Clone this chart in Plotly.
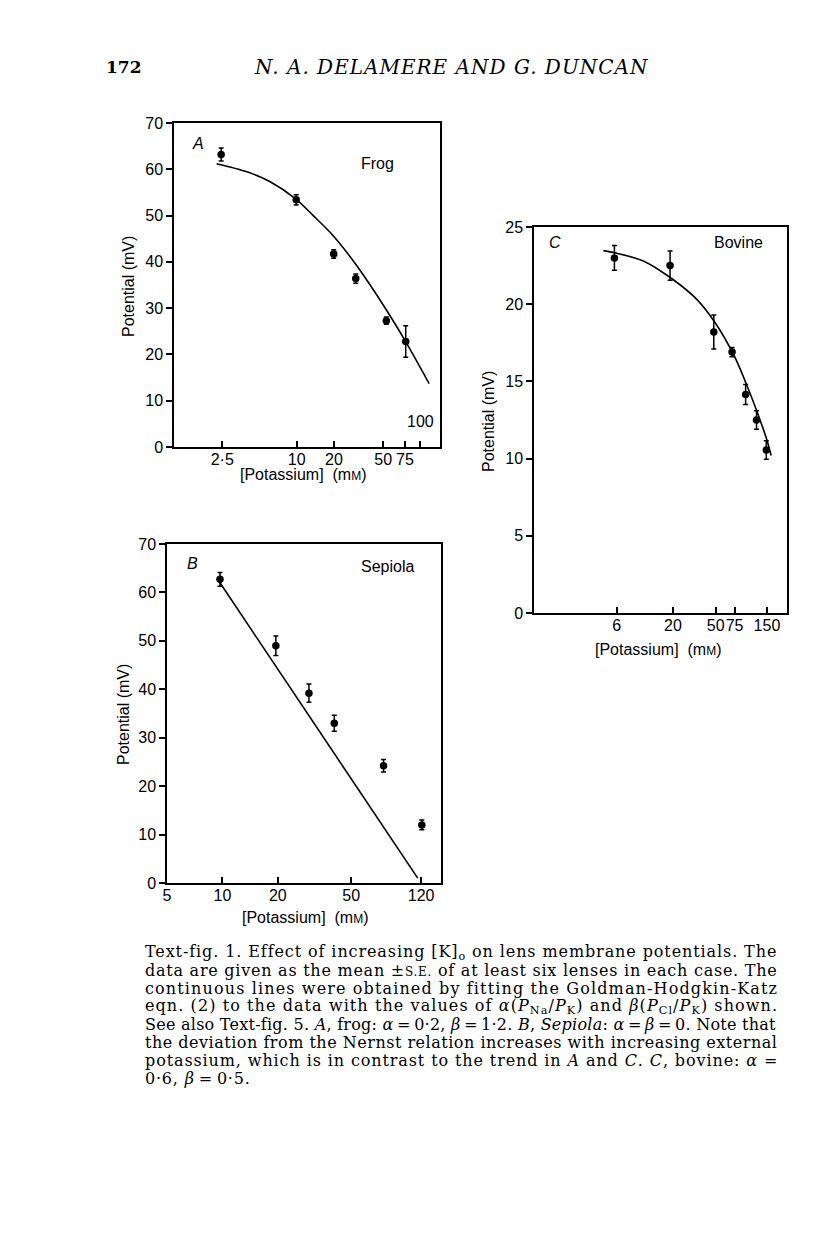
import math
import plotly.graph_objects as go

W, H = 816, 1235

# ---------------- data ----------------
# Panel A (frog)
A_x = [2.45, 9.9, 19.9, 30, 53, 76]
A_y = [63.2, 53.4, 41.7, 36.4, 27.3, 22.8]
A_err = [1.4, 1.1, 0.9, 1.0, 0.8, 3.4]
A_fit_x = [2.25, 3.9, 6.1, 9.8, 13.6, 19.8, 30.5, 53.4, 76.6, 117.5]
A_fit_y = [61.2, 59.5, 57.3, 53.6, 50.0, 45.6, 39.2, 29.5, 22.6, 13.7]
A_tickvals = [2.5, 10, 20, 50, 75, 100]
A_ticktext = ["2·5", "10", "20", "50", "75", ""]

# Panel B (Sepiola)
B_x = [9.7, 19.5, 29.5, 40.5, 75, 121]
B_y = [62.7, 49.0, 39.2, 33.0, 24.2, 12.0]
B_err = [1.4, 2.0, 1.9, 1.65, 1.3, 1.0]
B_fit_x = [9.5, 115]
B_fit_y = [62.5, 1.0]
B_tickvals = [5, 10, 20, 50, 120]
B_ticktext = ["5", "10", "20", "50", "120"]

# Panel C (bovine)
C_x = [5.7, 18.8, 48, 71, 95, 120, 148]
C_y = [23.0, 22.5, 18.2, 16.9, 14.15, 12.5, 10.55]
C_err = [0.8, 0.95, 1.1, 0.3, 0.65, 0.6, 0.6]
C_fit_x = [4.5, 6, 10.6, 20, 33.5, 50, 75, 95.6, 119, 150, 164]
C_fit_y = [23.47, 23.3, 22.8, 21.6, 20.3, 18.75, 16.6, 14.9, 13.2, 11.2, 10.2]
C_tickvals = [6, 20, 50, 75, 150]
C_ticktext = ["6", "20", "50", "75", "150"]

# ---------------- helpers ----------------
def px(x):
    return x / W

def py(y):
    return 1 - y / H

SANS = "Liberation Sans, Arial, sans-serif"
SERIF = "DejaVu Serif, serif"

fig = go.Figure()

def add_panel(n, xs, ys, errs, fx, fy, spline=True):
    xa = "x" if n == 1 else f"x{n}"
    ya = "y" if n == 1 else f"y{n}"
    fig.add_trace(go.Scatter(
        x=fx, y=fy, mode="lines", xaxis=xa, yaxis=ya,
        line=dict(color="black", width=1.6, shape="spline" if spline else "linear",
                  smoothing=0.8),
        showlegend=False, hoverinfo="skip"))
    fig.add_trace(go.Scatter(
        x=xs, y=ys, mode="markers", xaxis=xa, yaxis=ya,
        marker=dict(color="black", size=7.5),
        error_y=dict(type="data", array=errs, symmetric=True,
                     color="black", thickness=1.5, width=2.5),
        showlegend=False))

add_panel(1, A_x, A_y, A_err, A_fit_x, A_fit_y)
add_panel(2, B_x, B_y, B_err, B_fit_x, B_fit_y, spline=False)
add_panel(3, C_x, C_y, C_err, C_fit_x, C_fit_y)

tickfont = dict(family=SANS, size=16, color="black")

def xaxis(dom, rng, tv, tt, anchor):
    return dict(domain=dom, type="log", range=rng, tickmode="array",
                tickvals=tv, ticktext=tt, ticks="inside", ticklen=6,
                tickwidth=1.5, tickcolor="black", showline=True,
                linecolor="black", linewidth=1.5, mirror=True,
                showgrid=False, zeroline=False, tickfont=tickfont,
                tickangle=0, ticklabelstandoff=-3, automargin=False,
                anchor=anchor, fixedrange=True)

def yaxis(dom, rng, dt, anchor):
    return dict(domain=dom, range=rng, tickmode="linear", tick0=0, dtick=dt,
                ticks="outside", ticklen=6, tickwidth=1.5, tickcolor="black",
                showline=True, linecolor="black", linewidth=1.5, mirror=True,
                showgrid=False, zeroline=False, tickfont=tickfont,
                automargin=False, anchor=anchor, fixedrange=True)

# panel boxes (page pixels)
A_box = (174, 440, 123, 447)
B_box = (167, 441, 544, 883)
C_box = (534, 787, 227, 613)

def xdom(b):
    return [px(b[0]), px(b[1])]

def ydom(b):
    return [py(b[3]), py(b[2])]

fig.update_layout(
    width=W, height=H,
    margin=dict(l=0, r=0, t=0, b=0, pad=0, autoexpand=False),
    paper_bgcolor="white", plot_bgcolor="white",
    showlegend=False,
    xaxis=xaxis(xdom(A_box), [0.008, 2.158], A_tickvals, A_ticktext, "y"),
    yaxis=yaxis(ydom(A_box), [0, 70], 10, "x"),
    xaxis2=xaxis(xdom(B_box), [math.log10(5), 2.187], B_tickvals, B_ticktext, "y2"),
    yaxis2=yaxis(ydom(B_box), [0, 70], 10, "x2"),
    xaxis3=xaxis(xdom(C_box), [0.007, 2.363], C_tickvals, C_ticktext, "y3"),
    yaxis3=yaxis(ydom(C_box), [0, 25], 5, "x3"),
)

ann = []

def text(x, y, s, size=16, family=SANS, angle=0, xanchor="center", color="black"):
    ann.append(dict(x=px(x), y=py(y), xref="paper", yref="paper", text=s,
                    showarrow=False, textangle=angle, xanchor=xanchor,
                    yanchor="middle", font=dict(family=family, size=size, color=color)))

mM = "[Potassium]&nbsp; (m<span style='font-size:12px'>M</span>)"

# panel A
text(198, 143, "<i>A</i>")
text(377, 163, "Frog")
ann.append(dict(x=math.log10(100), y=3.2, xref="x", yref="y", text="100",
                showarrow=False, xanchor="center", yanchor="bottom",
                font=dict(family=SANS, size=16, color="black")))
text(128, 287, "Potential (mV)", angle=-90)
text(303, 475, mM)

# panel C
text(555, 242, "<i>C</i>")
text(738, 242, "Bovine")
text(488, 422, "Potential (mV)", angle=-90)
text(658, 649, mM)

# panel B
text(192, 563, "<i>B</i>")
text(387, 566, "Sepiola")
text(123, 715, "Potential (mV)", angle=-90)
text(305, 917, mM)

# header
text(104, 67, "<b>172</b>", size=17, family=SERIF, xanchor="left")
text(451, 67, "<span style='letter-spacing:1px'><i>N. A. DELAMERE AND G. DUNCAN</i></span>",
     size=20, family=SERIF)

# caption
TS = "\u2009"
caption = [
    "Text-fig. 1. Effect of increasing [K]<sub>o</sub> on lens membrane potentials. The",
    "data are given as the mean ±<span style='font-size:12px'>S.E.</span> of at least six lenses in each case. The",
    "continuous lines were obtained by fitting the Goldman-Hodgkin-Katz",
    "eqn. (2) to the data with the values of <i>α</i>(<i>P</i><sub>Na</sub>/<i>P</i><sub>K</sub>) and <i>β</i>(<i>P</i><sub>Cl</sub>/<i>P</i><sub>K</sub>) shown.",
    f"See also Text-fig. 5. <i>A</i>, frog: <i>α</i>{TS}={TS}0·2, <i>β</i>{TS}={TS}1·2. <i>B</i>, <i>Sepiola</i>: <i>α</i>{TS}={TS}<i>β</i>{TS}={TS}0. Note that",
    "the deviation from the Nernst relation increases with increasing external",
    "potassium, which is in contrast to the trend in <i>A</i> and <i>C</i>. <i>C</i>, bovine: <i>α</i> =",
    f"0·6, <i>β</i>{TS}={TS}0·5.",
]
spacing = [0.9, 0.75, 1.13, 1.08, 0.25, 0.51, 0.89, 0.8]
for i, line in enumerate(caption):
    text(143, 952 + 18 * i,
         f"<span style='letter-spacing:{spacing[i]}px'>{line}</span>",
         size=16, family=SERIF, xanchor="left")

fig.update_layout(annotations=ann)
fig.write_html("out.html", config={"displayModeBar": False},
               post_script="document.body.style.margin='0';document.body.style.overflow='hidden';")
